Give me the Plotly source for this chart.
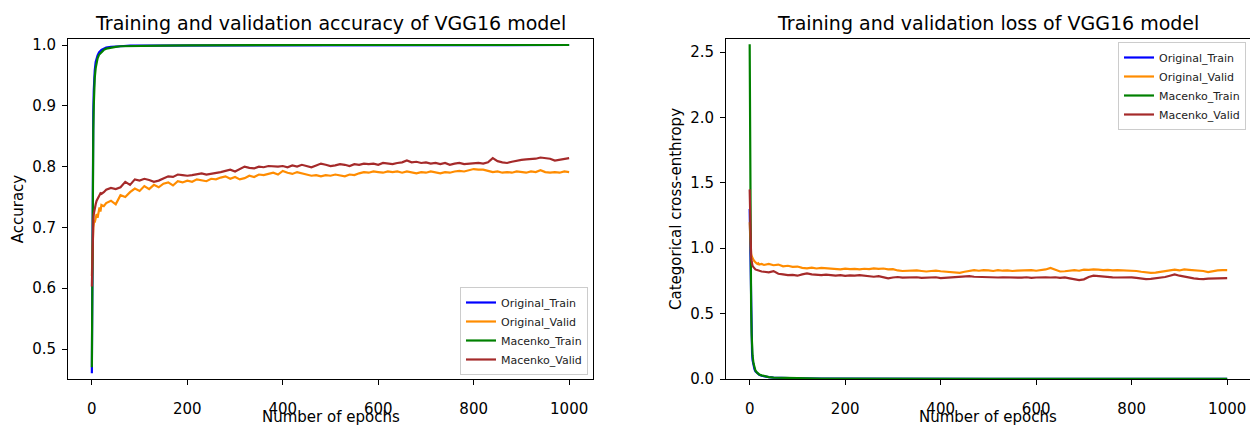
import plotly.graph_objects as go

# ---------------- data ----------------
EP_TRAIN = [0, 1, 2, 3, 4, 5, 6, 8, 10, 12, 15, 20, 25, 30, 40, 50, 60, 80, 100,
            150, 200, 300, 400, 500, 600, 700, 800, 900, 1000]
EP_VAL = [0, 1, 2, 3, 4, 5, 6, 8, 10, 12, 14, 16, 18, 20, 25] + list(range(30, 1001, 10))

acc_orig_train = [0.460, 0.700, 0.830, 0.890, 0.925, 0.945, 0.958, 0.972, 0.978, 0.983,
                  0.988, 0.992, 0.994, 0.996, 0.997, 0.998, 0.998, 0.999, 0.999, 0.999,
                  1.0, 1.0, 1.0, 1.0, 1.0, 1.0, 1.0, 1.0, 1.0]
acc_mac_train = [0.470, 0.660, 0.790, 0.860, 0.900, 0.928, 0.946, 0.962, 0.972, 0.978,
                 0.984, 0.989, 0.992, 0.994, 0.996, 0.997, 0.998, 0.998, 0.999, 0.999,
                 0.9995, 1.0, 1.0, 1.0, 1.0, 1.0, 1.0, 1.0, 1.0]

acc_orig_valid = [0.620, 0.668, 0.688, 0.700, 0.706, 0.712, 0.708, 0.718, 0.722, 0.716,
                  0.728, 0.733, 0.726, 0.737, 0.735,
                  0.740, 0.744, 0.738, 0.753, 0.750, 0.758, 0.764, 0.760, 0.768, 0.763,
                  0.770, 0.766, 0.772, 0.774, 0.769, 0.776, 0.774, 0.777, 0.775, 0.779,
                  0.778, 0.776, 0.780, 0.779, 0.782, 0.784, 0.780, 0.783, 0.779, 0.781,
                  0.785, 0.783, 0.787, 0.786, 0.788, 0.790, 0.787, 0.793, 0.790, 0.788,
                  0.791, 0.789, 0.786, 0.785, 0.786, 0.784, 0.786, 0.785, 0.787, 0.786,
                  0.784, 0.787, 0.786, 0.789, 0.791, 0.790, 0.792, 0.791, 0.790, 0.792,
                  0.791, 0.792, 0.790, 0.792, 0.790, 0.789, 0.791, 0.790, 0.792, 0.791,
                  0.789, 0.791, 0.790, 0.792, 0.793, 0.792, 0.794, 0.796, 0.795, 0.795,
                  0.793, 0.791, 0.792, 0.790, 0.791, 0.790, 0.792, 0.791, 0.790, 0.792,
                  0.791, 0.794, 0.791, 0.790, 0.791, 0.790, 0.792, 0.791]
acc_mac_valid = [0.603, 0.665, 0.698, 0.712, 0.722, 0.728, 0.733, 0.738, 0.744, 0.748,
                 0.751, 0.753, 0.756, 0.755, 0.758,
                 0.762, 0.765, 0.763, 0.766, 0.775, 0.770, 0.779, 0.777, 0.780, 0.778,
                 0.775, 0.777, 0.780, 0.784, 0.783, 0.787, 0.786, 0.785, 0.786, 0.787,
                 0.789, 0.787, 0.788, 0.789, 0.791, 0.793, 0.795, 0.792, 0.796, 0.800,
                 0.798, 0.797, 0.800, 0.799, 0.801, 0.800, 0.800, 0.801, 0.799, 0.802,
                 0.800, 0.803, 0.801, 0.799, 0.802, 0.805, 0.803, 0.801, 0.802, 0.804,
                 0.803, 0.801, 0.804, 0.803, 0.805, 0.804, 0.805, 0.803, 0.806, 0.805,
                 0.804, 0.806, 0.807, 0.810, 0.807, 0.808, 0.806, 0.807, 0.805, 0.806,
                 0.804, 0.806, 0.803, 0.805, 0.806, 0.804, 0.805, 0.805, 0.806, 0.805,
                 0.807, 0.814, 0.809, 0.807, 0.806, 0.808, 0.810, 0.811, 0.812, 0.812,
                 0.813, 0.815, 0.814, 0.813, 0.810, 0.811, 0.813, 0.814]

loss_orig_train = [1.30, 0.98, 0.66, 0.43, 0.29, 0.20, 0.145, 0.10, 0.075, 0.058,
                   0.045, 0.032, 0.025, 0.020, 0.014, 0.010, 0.008, 0.006, 0.005, 0.0035,
                   0.0025, 0.0018, 0.0013, 0.001, 0.0008, 0.0007, 0.0006, 0.0005, 0.0005]
loss_mac_train = [2.56, 1.40, 0.85, 0.55, 0.35, 0.25, 0.18, 0.12, 0.085, 0.065,
                  0.050, 0.035, 0.028, 0.022, 0.015, 0.011, 0.009, 0.007, 0.006, 0.004,
                  0.003, 0.002, 0.0015, 0.001, 0.001, 0.0008, 0.0007, 0.0006, 0.0005]

loss_orig_valid = [1.20, 1.05, 0.99, 0.96, 0.94, 0.93, 0.92, 0.91, 0.90, 0.89,
                   0.885, 0.88, 0.885, 0.875, 0.88,
                   0.872, 0.880, 0.870, 0.875, 0.862, 0.866, 0.858, 0.860, 0.850, 0.846,
                   0.852, 0.845, 0.850, 0.848, 0.842, 0.845, 0.838, 0.844, 0.840, 0.842,
                   0.838, 0.843, 0.840, 0.846, 0.842, 0.845, 0.838, 0.840, 0.830, 0.826,
                   0.828, 0.832, 0.830, 0.826, 0.822, 0.826, 0.828, 0.824, 0.820, 0.818,
                   0.816, 0.812, 0.820, 0.826, 0.833, 0.828, 0.832, 0.830, 0.826, 0.832,
                   0.828, 0.830, 0.826, 0.829, 0.832, 0.830, 0.833, 0.828, 0.831, 0.838,
                   0.850, 0.835, 0.822, 0.824, 0.830, 0.833, 0.828, 0.836, 0.834, 0.838,
                   0.836, 0.832, 0.835, 0.830, 0.833, 0.832, 0.833, 0.830, 0.826, 0.820,
                   0.815, 0.812, 0.814, 0.820, 0.826, 0.834, 0.836, 0.830, 0.838, 0.835,
                   0.832, 0.830, 0.826, 0.818, 0.826, 0.830, 0.833, 0.832]
loss_mac_valid = [1.45, 1.10, 0.98, 0.93, 0.90, 0.88, 0.865, 0.855, 0.845, 0.838,
                  0.835, 0.832, 0.830, 0.828, 0.822,
                  0.820, 0.816, 0.825, 0.805, 0.800, 0.794, 0.796, 0.790, 0.800, 0.807,
                  0.800, 0.796, 0.794, 0.798, 0.792, 0.790, 0.794, 0.788, 0.792, 0.790,
                  0.794, 0.790, 0.788, 0.782, 0.786, 0.780, 0.770, 0.776, 0.780, 0.775,
                  0.777, 0.775, 0.778, 0.774, 0.776, 0.774, 0.778, 0.772, 0.775, 0.778,
                  0.782, 0.786, 0.784, 0.787, 0.782, 0.780, 0.778, 0.777, 0.779, 0.776,
                  0.778, 0.776, 0.779, 0.777, 0.775, 0.778, 0.774, 0.776, 0.778, 0.777,
                  0.776, 0.778, 0.774, 0.777, 0.770, 0.764, 0.756, 0.762, 0.780, 0.790,
                  0.786, 0.782, 0.780, 0.777, 0.776, 0.778, 0.775, 0.777, 0.773, 0.768,
                  0.764, 0.766, 0.770, 0.772, 0.780, 0.790, 0.800, 0.790, 0.782, 0.776,
                  0.770, 0.766, 0.764, 0.768, 0.770, 0.772, 0.771, 0.772]

NAMES = ["Original_Train", "Original_Valid", "Macenko_Train", "Macenko_Valid"]
COLORS = ["#0000ff", "#ff8c00", "#008000", "#a52a2a"]
TITLES = ["Training and validation accuracy of VGG16 model",
          "Training and validation loss of VGG16 model"]
XLABEL = "Number of epochs"
XTICKS = [0, 200, 400, 600, 800, 1000]
ACC_TICKS = [0.5, 0.6, 0.7, 0.8, 0.9, 1.0]
LOSS_TICKS = [0.0, 0.5, 1.0, 1.5, 2.0, 2.5]

# ---------------- figure ----------------
FONT = "DejaVu Sans"
W, H = 1250, 425
fig = go.Figure()

panels = [
    ("x", "y", "legend", [(EP_TRAIN, acc_orig_train), (EP_VAL, acc_orig_valid),
                          (EP_TRAIN, acc_mac_train), (EP_VAL, acc_mac_valid)]),
    ("x2", "y2", "legend2", [(EP_TRAIN, loss_orig_train), (EP_VAL, loss_orig_valid),
                             (EP_TRAIN, loss_mac_train), (EP_VAL, loss_mac_valid)]),
]
for xa, ya, lg, series in panels:
    for (xs, ys), name, col in zip(series, NAMES, COLORS):
        fig.add_trace(go.Scatter(x=xs, y=ys, mode="lines", name=name,
                                 line=dict(color=col, width=2.2),
                                 xaxis=xa, yaxis=ya, legend=lg))

top_px, bot_px = 39, 379
ydom = [1 - bot_px / H, 1 - top_px / H]
axis_common = dict(showgrid=False, zeroline=False, showline=True, linecolor="black",
                   linewidth=1, mirror=True, ticks="outside", ticklen=5, tickwidth=1,
                   tickcolor="black", automargin=False,
                   tickfont=dict(family=FONT, size=15, color="black"))
TFONT = dict(family=FONT, size=15, color="black")

fig.update_layout(
    width=W, height=H, margin=dict(l=0, r=0, t=0, b=0),
    paper_bgcolor="white", plot_bgcolor="white",
    font=dict(family=FONT, color="black"),
    xaxis=dict(domain=[68 / W, 593 / W], range=[-50, 1050], tickvals=XTICKS,
               ticklabelstandoff=11, anchor="y", **axis_common),
    yaxis=dict(domain=ydom, range=[0.4507, 1.0099], tickvals=ACC_TICKS,
               ticktext=["%.1f" % v for v in ACC_TICKS], ticklabelstandoff=3,
               title=dict(text="Accuracy", font=TFONT, standoff=4),
               anchor="x", **axis_common),
    xaxis2=dict(domain=[726 / W, 1.0], range=[-49.6, 1047.8], tickvals=XTICKS,
                ticklabelstandoff=11, anchor="y2", **axis_common),
    yaxis2=dict(domain=ydom, range=[0, 2.6], tickvals=LOSS_TICKS,
                ticktext=["%.1f" % v for v in LOSS_TICKS], ticklabelstandoff=3,
                title=dict(text="Categorical cross-enthropy", font=TFONT, standoff=4),
                anchor="x2", **axis_common),
    legend=dict(x=588 / W, y=1 - 375 / H, xanchor="right", yanchor="bottom",
                bgcolor="rgba(255,255,255,0.8)", bordercolor="#cccccc", borderwidth=1,
                font=dict(family=FONT, size=11, color="#222222"), itemwidth=30,
                tracegroupgap=0),
    legend2=dict(x=1246 / W, y=1 - 42 / H, xanchor="right", yanchor="top",
                 bgcolor="rgba(255,255,255,0.8)", bordercolor="#cccccc", borderwidth=1,
                 font=dict(family=FONT, size=11, color="#222222"), itemwidth=30,
                 tracegroupgap=0),
    showlegend=True,
)

centers = [(68 + 593) / 2 / W, (726 + 1251) / 2 / W]
for t, cx in zip(TITLES, centers):
    fig.add_annotation(text=t, x=cx, y=1 - 23 / H, xref="paper", yref="paper",
                       xanchor="center", yanchor="middle", showarrow=False,
                       font=dict(family=FONT, size=19, color="black"))
    fig.add_annotation(text=XLABEL, x=cx, y=1 - 417 / H, xref="paper", yref="paper",
                       xanchor="center", yanchor="middle", showarrow=False,
                       font=TFONT)

fig.write_html("out.html")
